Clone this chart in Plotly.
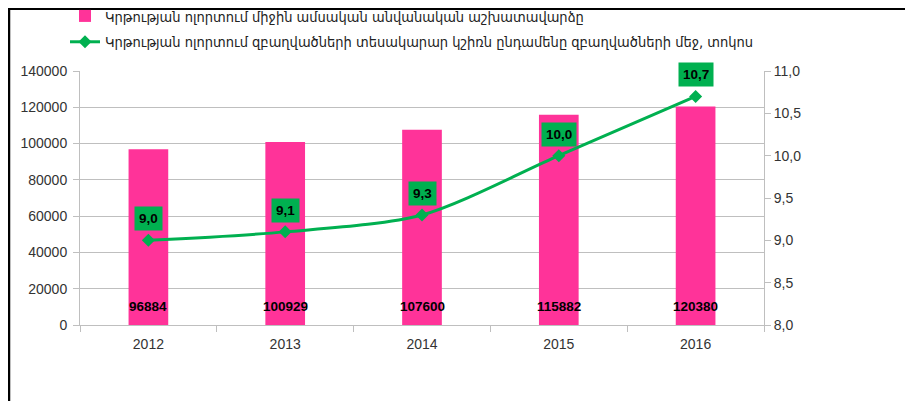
import plotly.graph_objects as go

years = ["2012", "2013", "2014", "2015", "2016"]
wages = [96884, 100929, 107600, 115882, 120380]
share = [9.0, 9.1, 9.3, 10.0, 10.7]
share_labels = ["9,0", "9,1", "9,3", "10,0", "10,7"]

bar_name = "Կրթության ոլորտում միջին ամսական անվանական աշխատավարձը"
line_name = "Կրթության ոլորտում զբաղվածների տեսակարար կշիռն ընդամենը զբաղվածների մեջ, տոկոս"

PINK = "#FF3399"
GREEN = "#00B050"
GRID = "#BFBFBF"
TICKFONT = dict(family="Liberation Sans", size=14, color="#333333")

fig = go.Figure()
fig.add_trace(go.Bar(
    x=years, y=wages, name=bar_name, marker=dict(color=PINK, line=dict(width=0)),
    width=0.29, yaxis="y", legendgroup="a",
))
fig.add_trace(go.Scatter(
    x=years, y=share, name=line_name, yaxis="y2", mode="lines+markers",
    line=dict(color=GREEN, width=3, shape="spline", smoothing=0.8),
    marker=dict(symbol="diamond", size=10, color=GREEN), legendgroup="b",
))

annotations = []
for i, w in enumerate(wages):
    annotations.append(dict(
        x=i, y=0, xref="x", yref="y", text=f"<b>{w}</b>", showarrow=False,
        yanchor="bottom", yshift=9, font=dict(family="Liberation Sans", size=13.5, color="black"),
    ))
for i, (s, lab) in enumerate(zip(share, share_labels)):
    annotations.append(dict(
        x=i, y=s, xref="x", yref="y2", text=f"<b>{lab}</b>", showarrow=False,
        yanchor="bottom", yshift=9, bgcolor=GREEN, borderpad=4,
        font=dict(family="Liberation Sans", size=13.5, color="black"),
    ))

# the page renders the figure offset by 8px (body margin)
OFF = 8
W, H = 913 - OFF, 401 - OFF
L, T = 80 - OFF, 71 - OFF
pw, ph = 684, 254
R, B = W - L - pw, H - T - ph

def px_x(p):
    return (p - OFF - L) / pw

def px_y(p):
    return (H - B - (p - OFF)) / ph

shapes = [
    dict(type="line", xref="paper", yref="paper", x0=px_x(9), x1=px_x(9), y0=px_y(8), y1=px_y(401),
         line=dict(color="black", width=2.5)),
    dict(type="line", xref="paper", yref="paper", x0=px_x(8), x1=px_x(913), y0=px_y(9), y1=px_y(9),
         line=dict(color="black", width=2)),
]

fig.update_layout(
    width=W, height=H, margin=dict(l=L, r=R, t=T, b=B, autoexpand=False),
    paper_bgcolor="white", plot_bgcolor="white",
    separators=", ",
    bargap=0.7,
    showlegend=True,
    legend=dict(
        x=px_x(65), y=px_y(0), xanchor="left", yanchor="top",
        font=dict(family="DejaVu Sans Condensed", size=14.5, color="#222222"),
        bgcolor="rgba(0,0,0,0)", itemwidth=30, tracegroupgap=4,
    ),
    xaxis=dict(
        type="category", range=[-0.5, 4.5], showgrid=False, showline=True, linecolor=GRID, linewidth=1,
        ticks="outside", tickson="boundaries", ticklen=6, tickcolor=GRID,
        tickfont=TICKFONT, ticklabelstandoff=6,
    ),
    yaxis=dict(
        range=[0, 140000], dtick=20000, tickformat="d", showgrid=True, gridcolor=GRID,
        showline=True, linecolor=GRID, ticks="outside", ticklen=6, tickcolor=GRID,
        tickfont=TICKFONT, zeroline=False, ticklabelstandoff=3,
    ),
    yaxis2=dict(
        range=[8, 11], dtick=0.5, tickformat=".1f", overlaying="y", side="right",
        showgrid=False, showline=True, linecolor=GRID, ticks="outside", ticklen=6, tickcolor=GRID,
        tickfont=TICKFONT, zeroline=False,
    ),
    annotations=annotations,
    shapes=shapes,
)

fig.write_html("out.html")
